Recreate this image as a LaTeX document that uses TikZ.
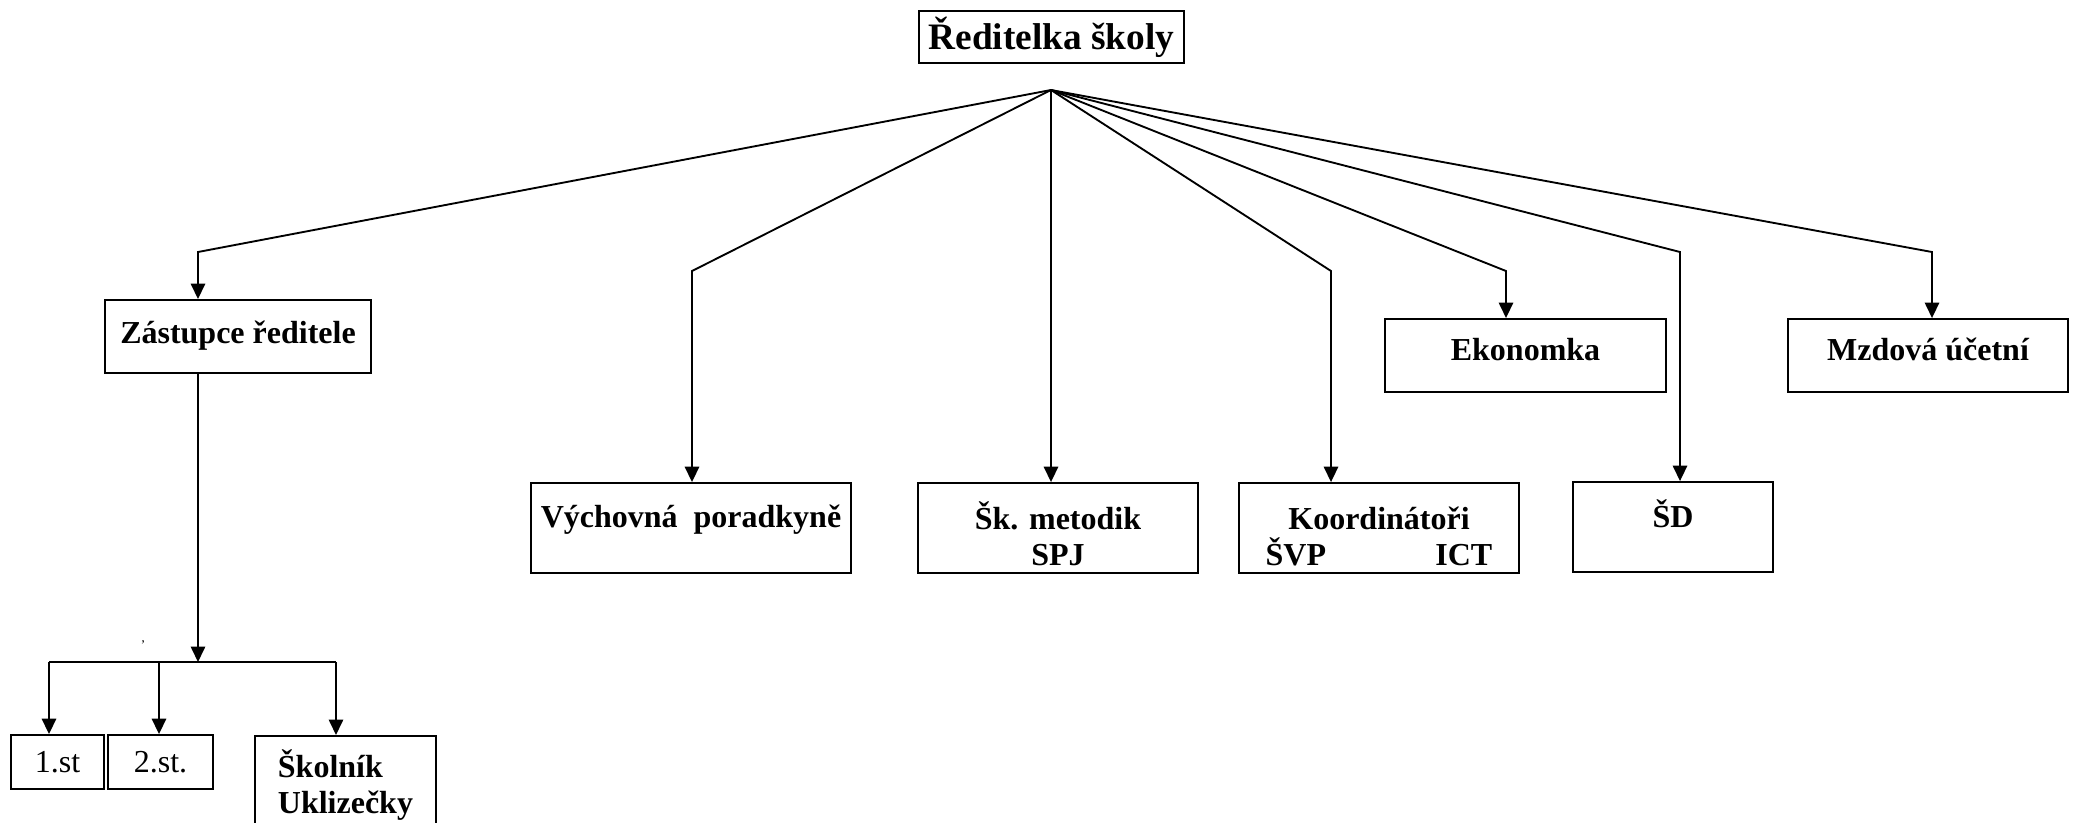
\documentclass[tikz,border=0pt]{standalone}
\usepackage{fontspec}
\setmainfont{Liberation Serif}
\usetikzlibrary{arrows.meta}

\begin{document}
\begin{tikzpicture}[x=0.375pt,y=-0.375pt]
\useasboundingbox (0,0) rectangle (2076,822);
\clip (0,0) rectangle (2076,822);
	\begin{scope}[every node/.style={draw,line width=0.7pt,inner sep=0pt,align=center,font=\fontsize{12}{13.5}\selectfont\bfseries},
	              lift/.style={text height=9pt,text depth=#1}]
    \node (dir) at (1051.5,37) [minimum width=99.4pt,minimum height=19.5pt,font=\fontsize{14}{16}\selectfont\bfseries] {Ředitelka školy};
    \node (zast) at (238,336.5) [minimum width=99.75pt,minimum height=27.4pt,lift=3.6pt] {Zástupce ředitele};
    \node (vych) at (691,528) [minimum width=120pt,minimum height=33.75pt,lift=9.2pt] {Výchovná\ \ poradkyně};
    \node (metod) at (1058,528) [minimum width=105pt,minimum height=33.75pt] {\rule{0pt}{14.5pt}Šk. metodik\\SPJ};
    \node (koord) at (1379,528) [minimum width=105pt,minimum height=33.75pt] {\rule{0pt}{14.5pt}Koordinátoři\\\makebox[85pt]{ŠVP\hfill ICT}\hspace{3pt}};
    \node (ekon) at (1525.5,355.5) [minimum width=105.4pt,minimum height=27.4pt,lift=5pt] {Ekonomka};
    \node (sd) at (1673,527) [minimum width=75pt,minimum height=33.75pt,lift=8.5pt] {ŠD};
    \node (mzda) at (1928,355.5) [minimum width=105pt,minimum height=27.4pt,lift=5pt] {Mzdová účetní};
    \node (st1) at (57.5,762) [minimum width=34.9pt,minimum height=20.25pt,font=\fontsize{12}{13.5}\selectfont] {1.st};
    \node (st2) at (160.5,762) [minimum width=39.4pt,minimum height=20.25pt,font=\fontsize{12}{13.5}\selectfont] {2.st.};
    \node (skol) at (254,735) [anchor=north west,minimum width=67.9pt,minimum height=36.75pt,align=left] {Školník\\Uklizečky};
	\end{scope}

    \node (tick) at (143,645) [font=\tiny] {'};

	\begin{scope}[>={Triangle[length=5.8pt,width=5.4pt]}, line width=0.7pt]
    \coordinate (f) at (1051,90);
    \coordinate (kz) at (198,252);
    \coordinate (kv) at (692,271);
    \coordinate (kk) at (1331,271);
    \coordinate (ke) at (1506,271);
    \coordinate (ks) at (1680,252);
    \coordinate (km) at (1932,252);
    \coordinate (j) at (198,662);
    \coordinate (j1) at (49,662);
    \coordinate (j2) at (159,662);
    \coordinate (j3) at (336,662);
    \draw [->] (f) -- (kz) -- (kz |- zast.north);
    \draw [->] (f) -- (kv) -- (kv |- vych.north);
    \draw [->] (f) -- (f |- metod.north);
    \draw [->] (f) -- (kk) -- (kk |- koord.north);
    \draw [->] (f) -- (ke) -- (ke |- ekon.north);
    \draw [->] (f) -- (ks) -- (ks |- sd.north);
    \draw [->] (f) -- (km) -- (km |- mzda.north);
    \draw [->] (zast.south -| j) -- (j);
    \draw (j1) -- (j3);
    \draw [->] (j1) -- (j1 |- st1.north);
    \draw [->] (j2) -- (j2 |- st2.north);
    \draw [->] (j3) -- (j3 |- skol.north);
	\end{scope}
\end{tikzpicture}
\end{document}
